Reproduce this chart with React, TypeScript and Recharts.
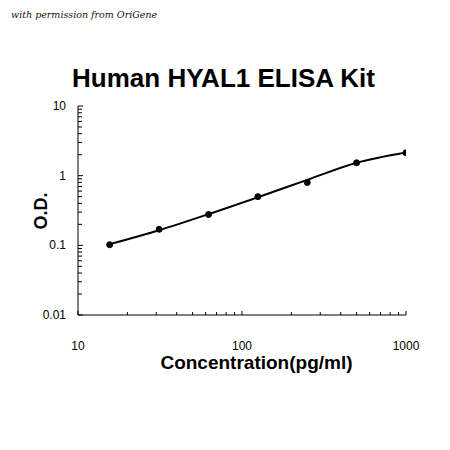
import { ComposedChart, Line, XAxis, YAxis } from "recharts";

// standard concentrations (pg/ml) and measured O.D.
const concentration = [15.6, 31.25, 62.5, 125, 250, 500, 1000];
const od = [0.102, 0.17, 0.277, 0.5, 0.8, 1.53, 2.13];
// fitted curve at the same concentrations
const fitOD = [0.104, 0.165, 0.28, 0.49, 0.87, 1.53, 2.15];

const xTicks = [10, 20, 30, 40, 50, 60, 70, 80, 90, 100, 200, 300, 400, 500, 600, 700, 800, 900, 1000];
const xLabels = [10, 100, 1000];
const yTicks = [
  0.01, 0.02, 0.03, 0.04, 0.05, 0.06, 0.07, 0.08, 0.09,
  0.1, 0.2, 0.3, 0.4, 0.5, 0.6, 0.7, 0.8, 0.9,
  1, 2, 3, 4, 5, 6, 7, 8, 9, 10,
];
const yLabels = [0.01, 0.1, 1, 10];

const data = concentration.map((c, i) => ({ conc: c, od: od[i], fit: fitOD[i] }));

const font = "'Liberation Sans', Arial, sans-serif";

// tick props come in at the axis line since tickSize and tickMargin are 0
const XTick = ({ x, y, payload }: any) => {
  const major = xLabels.includes(payload.value);
  return (
    <g>
      <line x1={x} y1={y} x2={x} y2={y - (major ? 4 : 3)} stroke="#000" />
      {major && (
        <text x={x} y={y + 35} textAnchor="middle" fontSize={12} fontFamily={font} fill="#000">
          {payload.value}
        </text>
      )}
    </g>
  );
};

const YTick = ({ x, y, payload }: any) => {
  const major = yLabels.includes(payload.value);
  return (
    <g>
      <line x1={x} y1={y} x2={x + (major ? 5 : 4)} y2={y} stroke="#000" />
      {major && (
        <text x={x - 12} y={y + 4} textAnchor="end" fontSize={12} fontFamily={font} fill="#000">
          {payload.value}
        </text>
      )}
    </g>
  );
};

export default function App() {
  return (
    <div style={{ position: "absolute", left: 0, top: 0, width: 450, height: 450, background: "#fff" }}>
      <div
        style={{
          position: "absolute",
          left: 11,
          top: 9,
          fontFamily: "'DejaVu Serif', serif",
          fontStyle: "italic",
          fontSize: 9.5,
          color: "#111",
        }}
      >
        with permission from OriGene
      </div>
      <div
        style={{
          position: "absolute",
          left: 0,
          width: 447,
          top: 63,
          textAlign: "center",
          fontFamily: font,
          fontWeight: "bold",
          fontSize: 26,
        }}
      >
        Human HYAL1 ELISA Kit
      </div>
      <div
        style={{
          position: "absolute",
          left: 0,
          width: 513,
          top: 352,
          textAlign: "center",
          fontFamily: font,
          fontWeight: "bold",
          fontSize: 19,
        }}
      >
        Concentration(pg/ml)
      </div>
      <div
        style={{
          position: "absolute",
          left: 41,
          top: 211,
          transform: "translate(-50%, -50%) rotate(-90deg)",
          fontFamily: font,
          fontWeight: "bold",
          fontSize: 18,
        }}
      >
        O.D.
      </div>
      <ComposedChart
        width={450}
        height={450}
        data={data}
        margin={{ top: 106, right: 44, bottom: 95, left: 8 }}
      >
        <XAxis
          dataKey="conc"
          type="number"
          scale="log"
          domain={[10, 1000]}
          ticks={xTicks}
          interval={0}
          height={40}
          tickSize={0}
          tickMargin={0}
          tickLine={false}
          tick={<XTick />}
          axisLine={{ stroke: "#000" }}
          allowDataOverflow
        />
        <YAxis
          type="number"
          scale="log"
          domain={[0.01, 10]}
          ticks={yTicks}
          interval={0}
          width={70}
          tickSize={0}
          tickMargin={0}
          tickLine={false}
          tick={<YTick />}
          axisLine={{ stroke: "#000" }}
          allowDataOverflow
        />
        <Line
          dataKey="fit"
          type="monotone"
          stroke="#000"
          strokeWidth={2}
          dot={false}
          isAnimationActive={false}
        />
        <Line
          dataKey="od"
          stroke="none"
          dot={{ r: 3, fill: "#000", stroke: "#000" }}
          isAnimationActive={false}
        />
      </ComposedChart>
    </div>
  );
}
